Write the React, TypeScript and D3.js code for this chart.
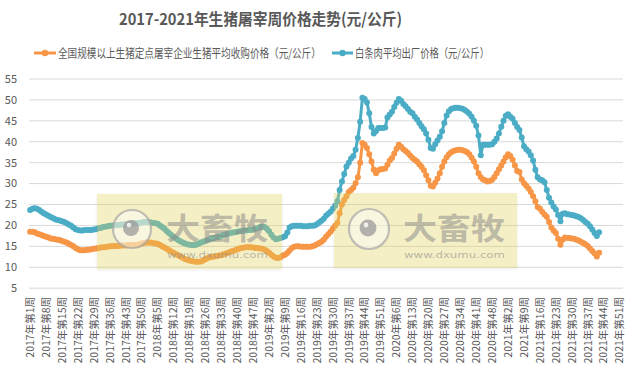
import React from "react";
import * as d3 from "d3";

const title = "2017-2021年生猪屠宰周价格走势(元/公斤)";
const seriesNames = ["全国规模以上生猪定点屠宰企业生猪平均收购价格（元/公斤）", "白条肉平均出厂价格（元/公斤）"];
const seriesColors = ["#F79646", "#4BACC6"];
const years = [2017, 2018, 2019, 2020, 2021];
const weeksPerYear = [52, 52, 52, 53, 52];
const yTicks = [5, 10, 15, 20, 25, 30, 35, 40, 45, 50, 55];

const livePigPrice = [
  18.5, 18.5, 18.4, 18.1, 17.9, 17.7, 17.5, 17.3, 17.1, 16.9,
  16.8, 16.7, 16.6, 16.5, 16.3, 16.1, 15.9, 15.6, 15.3, 15.0,
  14.6, 14.3, 14.1, 14.1, 14.1, 14.2, 14.2, 14.3, 14.4, 14.5,
  14.6, 14.7, 14.8, 14.8, 14.9, 15.0, 15.0, 15.1, 15.1, 15.1,
  15.2, 15.2, 15.2, 15.3, 15.3, 15.3, 15.3, 15.4, 15.5, 15.6,
  15.8, 15.9, 15.9, 15.9, 15.8, 15.7, 15.6, 15.3, 15.0, 14.7,
  14.4, 14.1, 13.8, 13.5, 13.2, 12.9, 12.6, 12.3, 12.0, 11.8,
  11.6, 11.5, 11.4, 11.3, 11.3, 11.4, 11.6, 11.9, 12.2, 12.4,
  12.5, 12.6, 12.7, 12.8, 12.9, 13.1, 13.3, 13.5, 13.7, 13.9,
  14.1, 14.3, 14.5, 14.6, 14.7, 14.8, 14.8, 14.8, 14.7, 14.6,
  14.6, 14.5, 14.4, 14.2, 13.9, 13.5, 13.0, 12.6, 12.3, 12.2,
  12.4, 12.8, 13.0, 13.4, 14.0, 14.6, 14.9, 15.0, 15.0, 14.9,
  14.9, 14.9, 14.9, 14.9, 15.0, 15.2, 15.5, 15.8, 16.1, 16.6,
  17.3, 17.9, 18.5, 19.2, 19.9, 20.6, 22.9, 25.0, 26.1, 27.0,
  28.0, 28.5, 29.0, 30.1, 31.5, 35.0, 39.7, 39.3, 38.5, 37.0,
  35.3, 33.3, 32.5, 33.2, 33.4, 33.5, 33.6, 34.5, 35.5, 36.1,
  37.2, 38.3, 39.3, 38.8, 38.2, 37.8, 37.3, 36.7, 36.1, 35.7,
  35.3, 34.6, 34.0, 33.2, 32.0, 30.8, 29.5, 29.3, 30.2, 31.2,
  32.5, 34.0, 35.3, 36.3, 37.0, 37.5, 37.8, 38.0, 38.1, 38.1,
  38.0, 37.8, 37.5, 37.0, 36.2, 35.3, 34.0, 32.5, 31.5, 31.0,
  30.8, 30.5, 30.6, 30.9, 31.6, 32.5, 33.4, 34.3, 35.3, 36.3,
  37.0, 36.6, 35.7, 34.3, 33.0, 32.8, 31.0, 30.1, 29.5, 28.8,
  28.0, 27.0, 25.8, 24.4, 24.0, 23.3, 22.6, 22.1, 20.8, 19.5,
  18.8, 18.2, 16.8, 15.4, 16.6, 17.1, 17.0, 17.0, 16.9, 16.8,
  16.6, 16.4, 16.1, 15.8, 15.5, 15.1, 14.5, 13.9, 13.3, 12.6, 13.5,
];

const porkPrice = [
  23.7, 24.0, 24.1, 24.0, 23.7, 23.3, 22.9, 22.6, 22.3, 22.0,
  21.8, 21.5, 21.3, 21.2, 21.0, 20.8, 20.5, 20.2, 19.9, 19.5,
  19.1, 18.9, 18.8, 18.8, 18.9, 18.9, 18.9, 18.9, 19.0, 19.1,
  19.3, 19.4, 19.6, 19.7, 19.8, 19.9, 20.0, 20.0, 20.1, 20.1,
  20.2, 20.2, 20.3, 20.3, 20.4, 20.5, 20.5, 20.6, 20.6, 20.7,
  20.8, 20.8, 20.8, 20.7, 20.6, 20.5, 20.4, 20.0, 19.6, 19.2,
  18.7, 18.2, 17.7, 17.3, 16.9, 16.5, 16.2, 15.9, 15.7, 15.5,
  15.4, 15.3, 15.3, 15.4, 15.6, 15.9, 16.1, 16.3, 16.5, 16.7,
  16.9, 17.0, 17.2, 17.3, 17.5, 17.7, 17.9, 18.0, 18.2, 18.3,
  18.4, 18.5, 18.6, 18.7, 18.8, 18.8, 18.9, 18.9, 19.0, 19.2,
  19.4, 19.6, 19.7, 19.6, 19.2, 18.6, 17.8, 17.1, 16.7, 16.8,
  17.0, 17.2, 17.4, 18.3, 19.5, 19.8, 19.9, 19.9, 19.9, 19.9,
  19.8, 19.8, 19.8, 19.9, 19.9, 20.0, 20.3, 20.7, 21.1, 21.6,
  22.3, 22.8, 23.3, 24.0, 24.7, 25.8, 28.5, 30.5, 32.3, 34.1,
  35.0, 36.0, 36.6, 38.1, 40.9, 44.8, 50.5, 50.2, 49.4, 46.8,
  43.5, 42.0, 42.6, 43.3, 43.3, 43.3, 43.4, 45.8, 46.5, 47.2,
  48.3, 49.3, 50.2, 49.8, 49.0, 48.5, 47.8, 47.2, 46.8, 46.0,
  45.3, 44.5, 43.7, 43.0, 42.0, 40.5, 38.5, 38.3, 39.4, 40.3,
  41.2, 42.5, 44.5, 46.3, 47.3, 47.8, 48.0, 48.1, 48.1, 48.0,
  47.9, 47.6, 47.2, 46.7, 46.0, 45.0, 43.8, 41.5, 36.8, 39.3,
  39.3, 39.3, 39.3, 39.4, 40.0, 40.8, 42.0, 43.6, 45.0, 46.2,
  46.6, 46.0, 45.5, 44.5, 43.5, 42.8, 41.0, 38.9, 38.2, 37.7,
  36.8, 35.5, 33.3, 31.5, 31.0, 30.8, 30.3, 28.5, 26.6, 25.5,
  24.5, 23.8, 22.5, 21.0, 22.8, 22.9, 22.7, 22.6, 22.5, 22.4,
  22.2, 22.0, 21.7, 21.3, 20.8, 20.4, 19.8, 19.0, 18.2, 17.5, 18.4,
];

const categories: string[] = [];
years.forEach((yr, k) => {
  for (let w = 1; w <= weeksPerYear[k]; w++) categories.push(`${yr}年第${w}周`);
});

const FONT = "'Noto Sans CJK SC', 'Noto Sans', sans-serif";
const TXT = "#595959";

const Watermark = ({ x0, x1, y0, y1, cx, cy, r, tx }: any) => (
  <g>
    <rect x={x0} y={y0} width={x1 - x0} height={y1 - y0} fill="rgb(226,209,81)" opacity={0.33} filter="url(#wmShadow)" />
    <circle cx={cx} cy={cy} r={r} fill="#ffffff" fillOpacity={0.45} stroke="#a6a6a6" strokeOpacity={0.7} strokeWidth={2.2} />
    <circle cx={cx - 1} cy={cy - 1} r={r * 0.42} fill="#9a9a9a" fillOpacity={0.75} />
    <circle cx={cx - 3} cy={cy - 4} r={r * 0.12} fill="#ffffff" fillOpacity={0.8} />
    <text x={tx} y={239} fontFamily={FONT} fontSize={30} fontWeight={700} fill="#8c8c8c" fillOpacity={0.55} textLength={102} lengthAdjust="spacingAndGlyphs">大畜牧</text>
    <text x={tx + 1} y={258} fontFamily="'DejaVu Sans', sans-serif" fontSize={9} fill="#8c8c8c" fillOpacity={0.6} textLength={101} lengthAdjust="spacingAndGlyphs">www.dxumu.com</text>
  </g>
);

export default function App() {
  const W = 636, H = 376;
  const x = d3.scaleBand<string>().domain(categories).range([29, 623]).paddingInner(0).paddingOuter(0);
  const y = d3.scaleLinear().domain([5, 55]).range([288.2, 79]);
  const cx = (i: number) => (x(categories[i]) as number) + x.bandwidth() / 2;
  const line = d3.line<number>().x((_, i) => cx(i)).y((d) => y(d));
  const series = [livePigPrice, porkPrice];

  return (
    <svg width={W} height={H} style={{ position: "absolute", left: 0, top: 0, background: "#fff" }}>
      <defs>
        <filter id="wmShadow" x="-5%" y="-10%" width="110%" height="125%">
          <feGaussianBlur in="SourceAlpha" stdDeviation="1.5" />
          <feOffset dx="0" dy="1" result="b" />
          <feComponentTransfer><feFuncA type="linear" slope="0.25" /></feComponentTransfer>
          <feMerge><feMergeNode /><feMergeNode in="SourceGraphic" /></feMerge>
        </filter>
      </defs>
      <rect width={W} height={H} fill="#fff" />
      <text x={260.5} y={25} textAnchor="middle" fontFamily={FONT} fontSize={16} fontWeight={700} fill={TXT} textLength={283} lengthAdjust="spacingAndGlyphs">{title}</text>

      {/* legend */}
      <g>
        <line x1={34} x2={56} y1={53} y2={53} stroke={seriesColors[0]} strokeWidth={3} />
        <circle cx={45} cy={53} r={3.2} fill={seriesColors[0]} />
        <text transform="translate(58,57.5) scale(0.8,1)" fontFamily={FONT} fontSize={12} fill={TXT}>{seriesNames[0]}</text>
        <line x1={332} x2={353} y1={53} y2={53} stroke={seriesColors[1]} strokeWidth={3} />
        <circle cx={342.5} cy={53} r={3.2} fill={seriesColors[1]} />
        <text transform="translate(355,57.5) scale(0.776,1)" fontFamily={FONT} fontSize={12} fill={TXT}>{seriesNames[1]}</text>
      </g>

      {/* grid */}
      {yTicks.map((t) => (
        <g key={t}>
          <line x1={29} x2={623} y1={y(t)} y2={y(t)} stroke="#d9d9d9" strokeWidth={1} />
          <text x={17} y={y(t)} dy="0.35em" textAnchor="end" fontFamily={FONT} fontSize={11} fill={TXT}>{t}</text>
        </g>
      ))}

      {/* x labels */}
      {categories.map((c, i) =>
        i % 7 === 0 ? (
          <text key={c} transform={`translate(${cx(i)},297) rotate(-90)`} dy="0.36em" textAnchor="end" fontFamily={FONT} fontSize={10.5} fill={TXT}>{c}</text>
        ) : null
      )}

      {/* series */}
      {series.map((s, k) => (
        <g key={k}>
          <path d={line(s) as string} fill="none" stroke={seriesColors[k]} strokeWidth={3} strokeLinejoin="round" />
          {s.map((v, i) => (
            <circle key={i} cx={cx(i)} cy={y(v)} r={3} fill={seriesColors[k]} />
          ))}
        </g>
      ))}

      <Watermark x0={97} x1={282} y0={194} y1={269} cx={132} cy={229} r={19} tx={166} />
      <Watermark x0={334} x1={517} y0={193} y1={268} cx={369} cy={229} r={20} tx={403} />
    </svg>
  );
}
